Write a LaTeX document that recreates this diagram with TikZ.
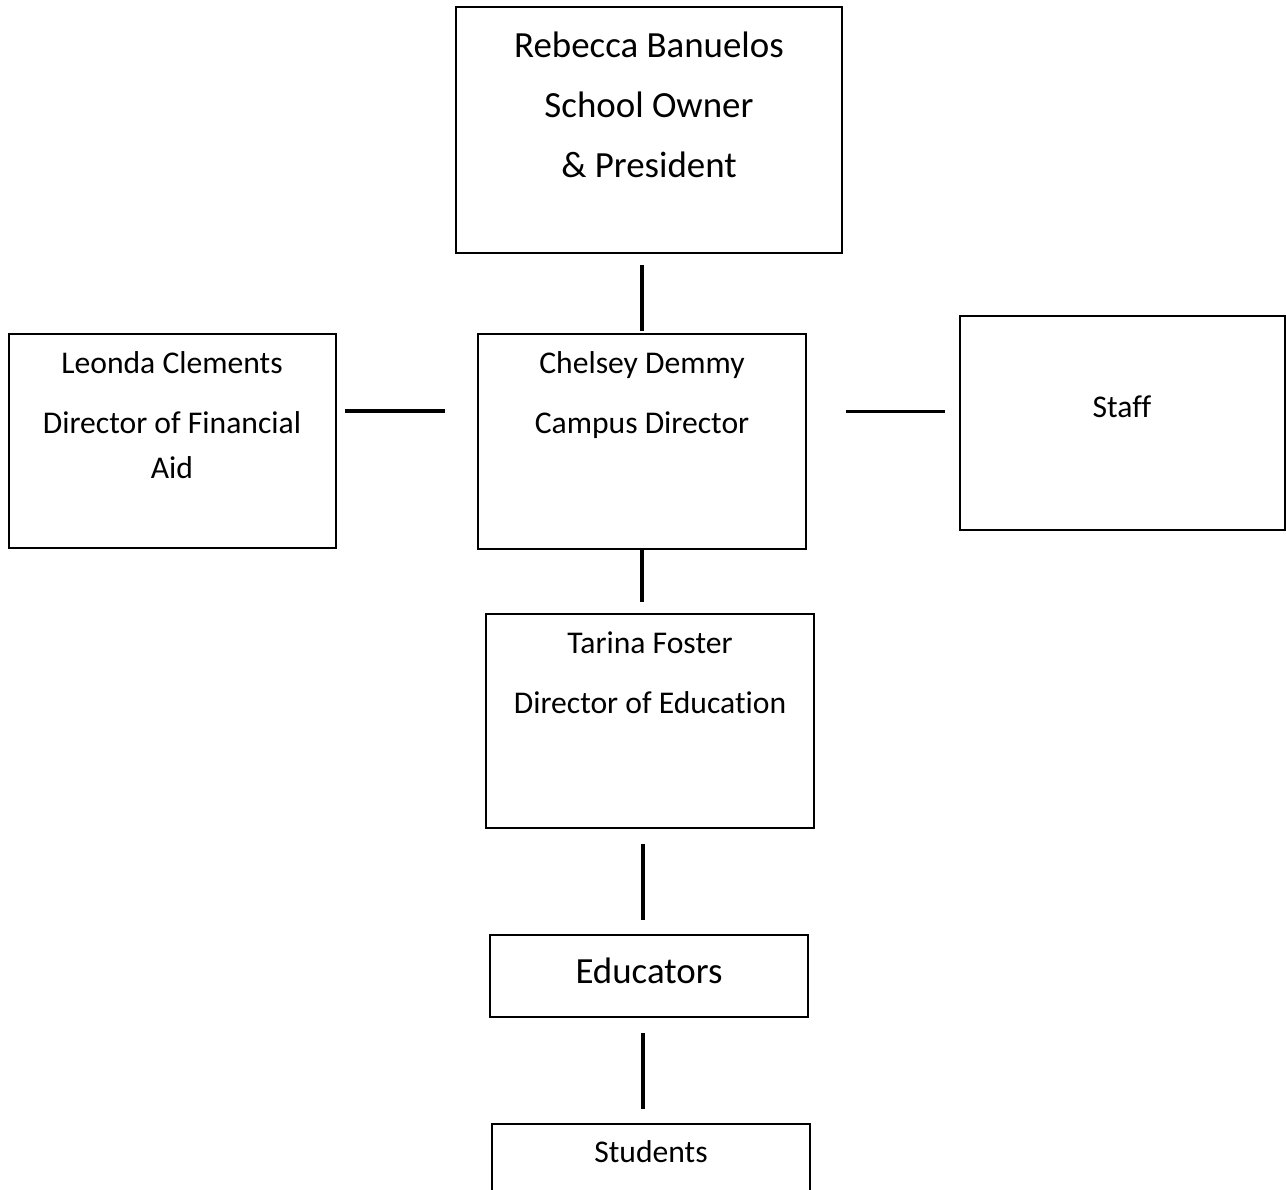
\documentclass[tikz,border=0pt]{standalone}
\usepackage{fontspec}
\setmainfont[Ligatures=NoCommon]{Carlito}
\usetikzlibrary{positioning}
\newcommand{\pxl}{0.02cm}
\tikzstyle{chart} = [x = 0.02cm, y = -0.02cm]
\tikzstyle{boxStyle} = [draw, line width = 1.6*\pxl, inner sep = 0pt]
\tikzstyle{linkLine} = [line width = 3.8*\pxl]
\tikzstyle{smallText} = [anchor = base, inner sep = 0pt, font = \fontsize{18}{22}\selectfont]
\tikzstyle{bigText} = [anchor = base, inner sep = 0pt, font = \fontsize{21}{25}\selectfont]
\newcommand{\orgBox}[5]{\node [boxStyle, minimum width = #4*\pxl, minimum height = #5*\pxl] (#1) at (#2, #3) {};}

\begin{document}
\begin{tikzpicture}[chart]
        \clip (0, 0) rectangle (1286, 1190);

        % boxes
        \orgBox{rebecca}{649}{130}{386}{246}
        \orgBox{leonda}{172.5}{441}{327}{214}
        \orgBox{chelsey}{642}{441.5}{328}{215}
        \orgBox{staff}{1122.5}{423}{325}{214}
        \orgBox{tarina}{650}{721}{328}{214}
        \orgBox{educators}{649}{976}{318}{82}
        \orgBox{students}{651}{1174}{318}{100}

        % texts
        \node [bigText] (rebeccaName) at (649, 57) {Rebecca Banuelos};
        \node [bigText] (rebeccaRole) at (649, 117) {School Owner};
        \node [bigText] (rebeccaRoleB) at (649, 177) {\& President};
        \node [smallText] (leondaName) at (172, 373) {Leonda Clements};
        \node [smallText] (leondaRole) at (172, 433) {Director of Financial};
        \node [smallText] (leondaRoleB) at (172, 478) {Aid};
        \node [smallText] (chelseyName) at (642, 373) {Chelsey Demmy};
        \node [smallText] (chelseyRole) at (642, 433) {Campus Director};
        \node [smallText] (staffName) at (1122, 417) {Staff};
        \node [smallText] (tarinaName) at (650, 653) {Tarina Foster};
        \node [smallText] (tarinaRole) at (650, 713) {Director of Education};
        \node [bigText] (educatorsName) at (649, 983) {Educators};
        \node [smallText] (studentsName) at (651, 1162) {Students};

        % connectors
        \draw [linkLine, shorten < = 2*\pxl, shorten > = 11*\pxl] (chelsey.north) -- (chelsey.north |- rebecca.south);
        \draw [linkLine, shorten < = 8*\pxl, shorten > = 32*\pxl] ([yshift = 30*\pxl]leonda.east) -- ([yshift = 30*\pxl]leonda.east -| chelsey.west);
        \draw [linkLine, shorten < = 39*\pxl, shorten > = 14*\pxl] ([yshift = 30*\pxl]chelsey.east) -- ([yshift = 30*\pxl]chelsey.east -| staff.west);
        \draw [linkLine, shorten > = 11*\pxl] (chelsey.south) -- (chelsey.south |- tarina.north);
        \draw [linkLine, shorten < = 15*\pxl, shorten > = 14*\pxl] ([xshift = -7*\pxl]tarina.south) -- ([xshift = -7*\pxl]tarina.south |- educators.north);
        \draw [linkLine, shorten < = 15*\pxl, shorten > = 14*\pxl] ([xshift = -6*\pxl]educators.south) -- ([xshift = -6*\pxl]educators.south |- students.north);
      \end{tikzpicture}
\end{document}
